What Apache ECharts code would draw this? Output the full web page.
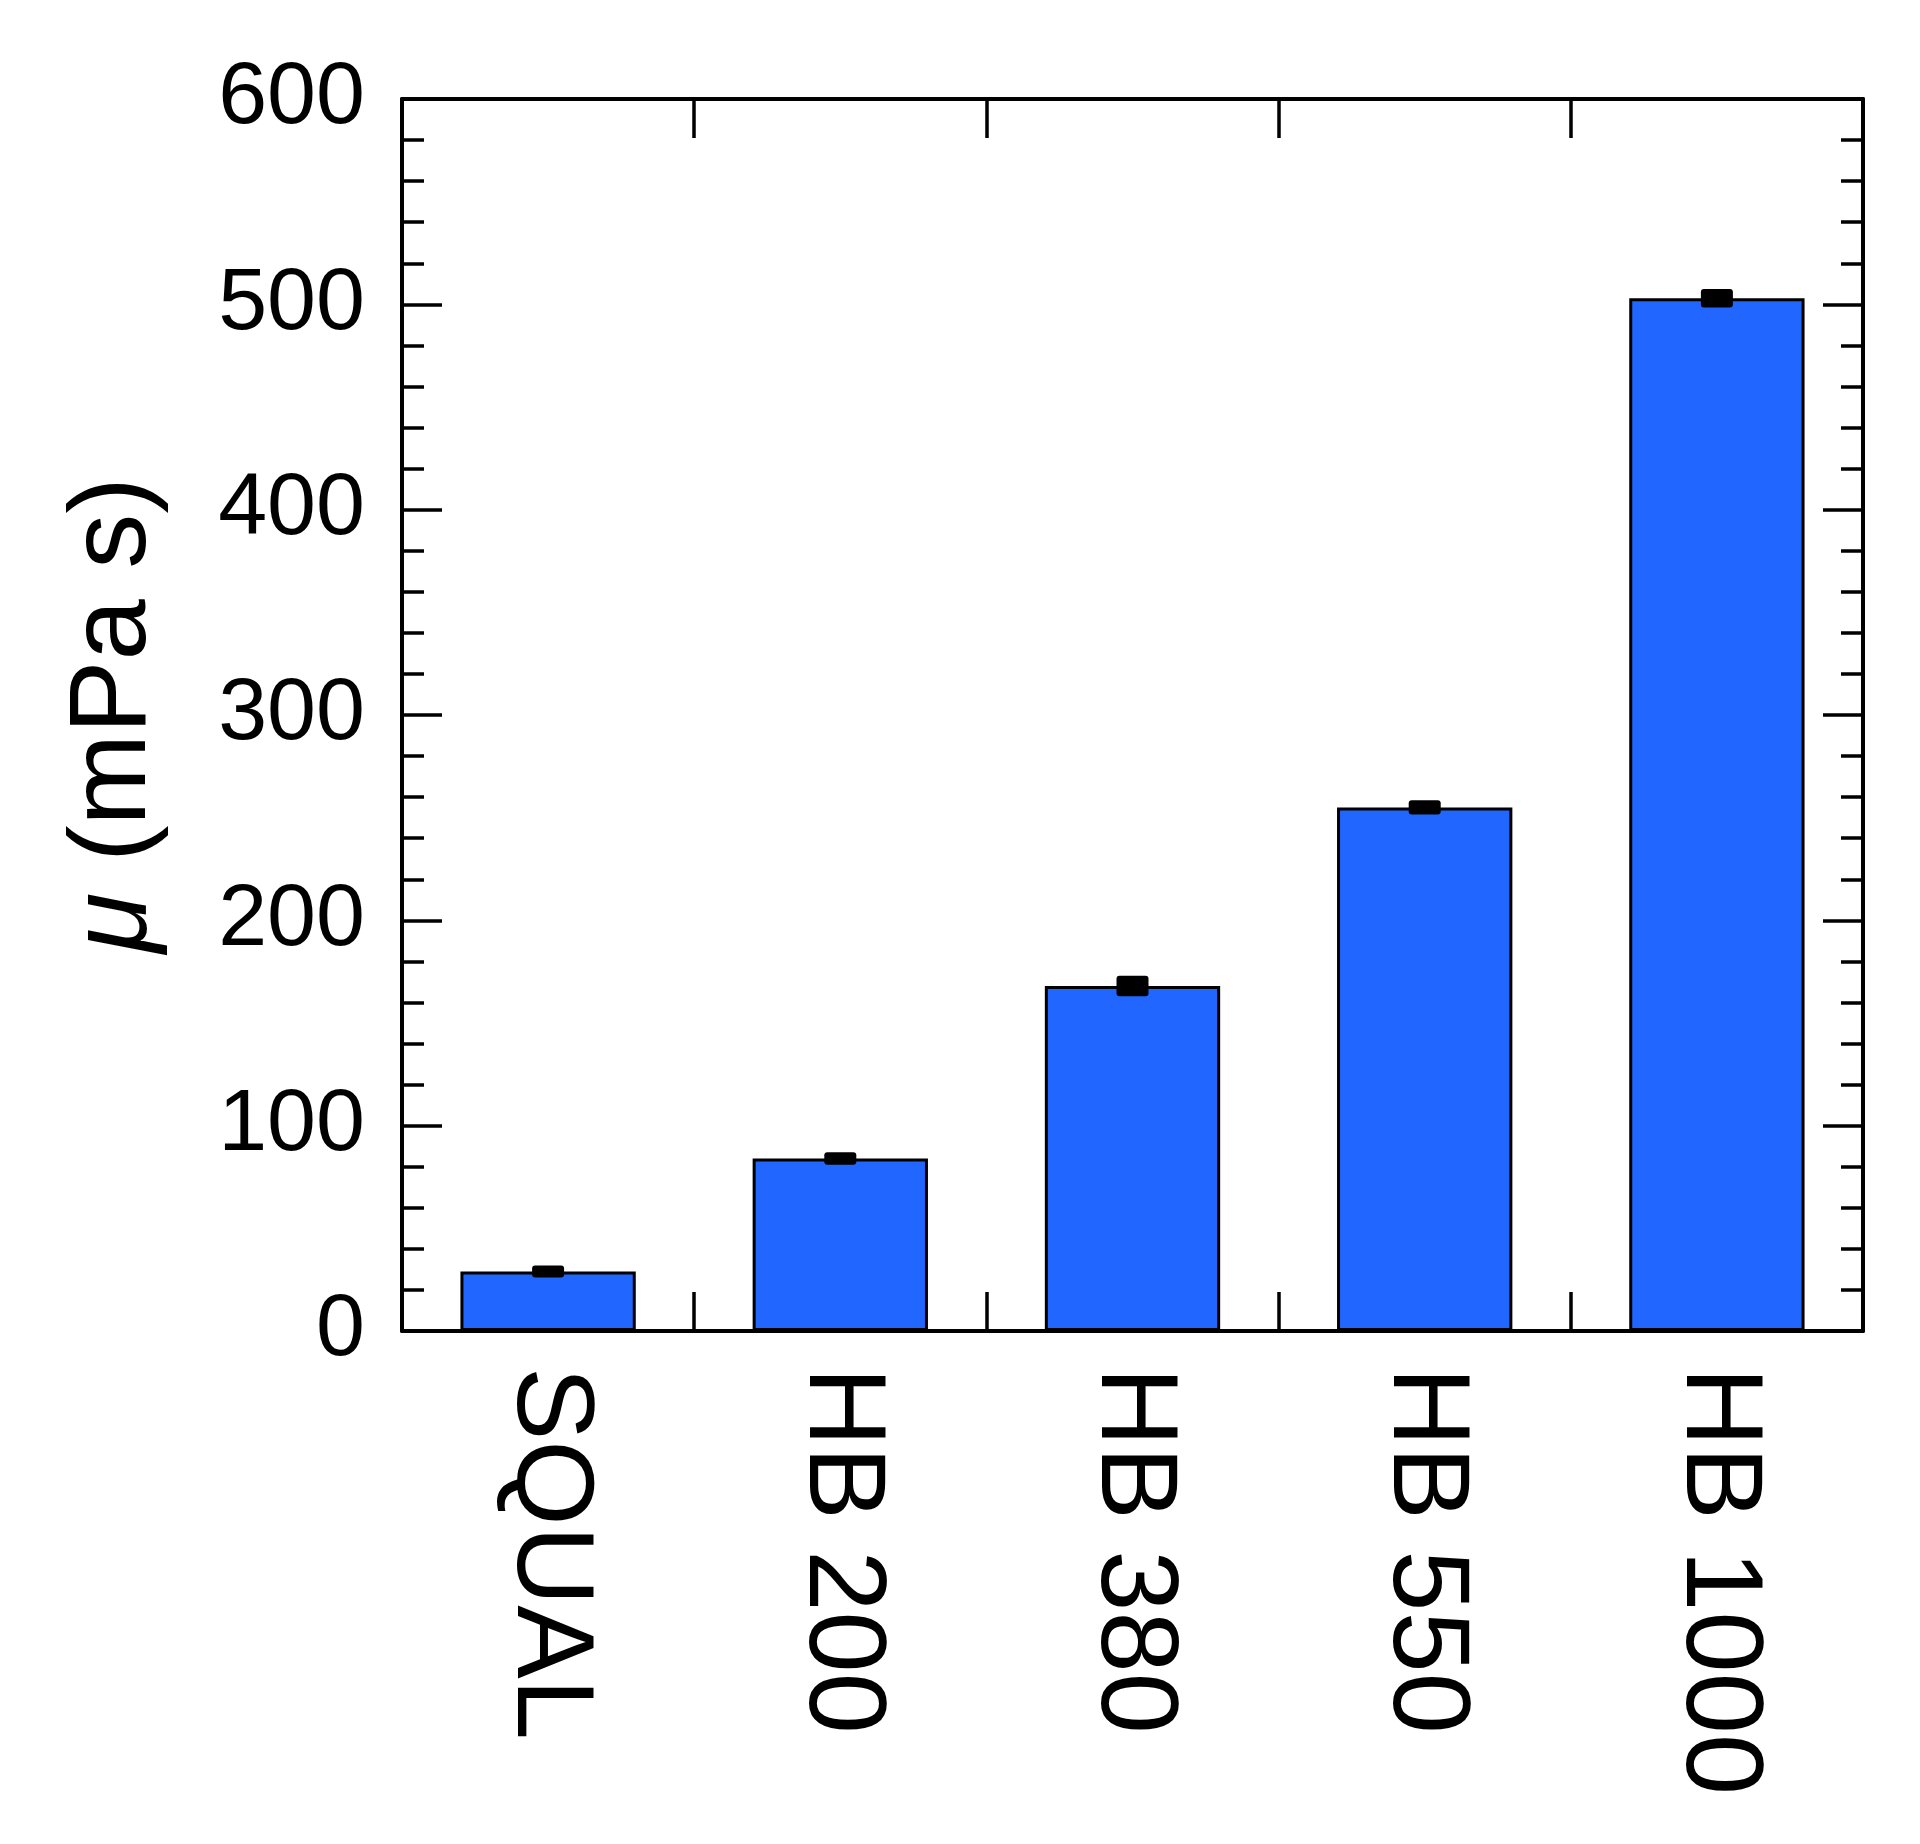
<!DOCTYPE html>
<html>
<head>
<meta charset="utf-8">
<title>viscosity</title>
<script src="https://cdn.jsdelivr.net/npm/echarts@6/dist/echarts.min.js"></script>
<style>
  html, body { margin: 0; padding: 0; background: #ffffff; }
  #chart { width: 1920px; height: 1844px; }
</style>
</head>
<body>
<div id="chart"></div>
<script>
// samples on the x axis
var categories = ['SQUAL', 'HB 200', 'HB 380', 'HB 550', 'HB 1000']
// viscosity mu (mPa s) and its error
var viscosity = [29, 84, 168, 255, 503]
var viscosityErr = [2.5, 3, 5, 3.5, 4.5]
// y tick range
var yMin = 0
var yMax = 600
var yStep = 100

var font = 'Arial, "Liberation Sans", sans-serif'

var errData = viscosity.map(function (v, i) {
    return [i, v - viscosityErr[i], v + viscosityErr[i]]
})

var chart = echarts.init(document.getElementById('chart'))
chart.setOption({
    animation: false,
    backgroundColor: '#ffffff',
    grid: {
        left: 402,
        right: 57,
        top: 99,
        bottom: 513,
        outerBoundsMode: 'none'
    },
    xAxis: [
        {
            type: 'category',
            data: categories,
            position: 'bottom',
            axisLine: { show: true, onZero: false, lineStyle: { color: '#000', width: 4 } },
            axisTick: { show: true, inside: true, length: 39, lineStyle: { color: '#000', width: 3.5 } },
            axisLabel: {
                rotate: -90,
                margin: 36,
                color: '#000',
                fontSize: 110,
                fontFamily: font,
                interval: 0
            }
        },
        {
            type: 'category',
            data: categories,
            position: 'top',
            axisLine: { show: true, onZero: false, lineStyle: { color: '#000', width: 4 } },
            axisTick: { show: true, inside: true, length: 39, lineStyle: { color: '#000', width: 3.5 } },
            axisLabel: { show: false }
        }
    ],
    yAxis: [
        {
            type: 'value',
            min: yMin,
            max: yMax,
            interval: yStep,
            position: 'left',
            name: '{i|μ} (mPa s)',
            nameLocation: 'middle',
            nameGap: 232,
            nameTextStyle: {
                color: '#000',
                fontSize: 110,
                fontFamily: font,
                rich: {
                    i: { fontSize: 110, fontStyle: 'italic', fontFamily: font, color: '#000' }
                }
            },
            splitLine: { show: false },
            axisLine: { show: true, onZero: false, lineStyle: { color: '#000', width: 4 } },
            axisTick: { show: true, inside: true, length: 40, lineStyle: { color: '#000', width: 3.5 } },
            minorTick: { show: true, splitNumber: 5, length: 22, lineStyle: { color: '#000', width: 3.5 } },
            axisLabel: {
                margin: 37,
                color: '#000',
                fontSize: 88,
                fontFamily: font,
                padding: [0, 0, 24, 0]
            }
        },
        {
            type: 'value',
            min: yMin,
            max: yMax,
            interval: yStep,
            position: 'right',
            splitLine: { show: false },
            axisLine: { show: true, onZero: false, lineStyle: { color: '#000', width: 4 } },
            axisTick: { show: true, inside: true, length: 40, lineStyle: { color: '#000', width: 3.5 } },
            minorTick: { show: true, splitNumber: 5, length: 22, lineStyle: { color: '#000', width: 3.5 } },
            axisLabel: { show: false }
        }
    ],
    series: [
        {
            name: 'mu',
            type: 'bar',
            barWidth: '60%',
            data: viscosity,
            itemStyle: {
                color: '#2167ff',
                borderColor: '#000',
                borderWidth: 3
            }
        },
        {
            name: 'err',
            type: 'custom',
            data: errData,
            encode: { x: 0, y: [1, 2] },
            z: 5,
            renderItem: function (params, api) {
                var lo = api.coord([api.value(0), api.value(1)])
                var hi = api.coord([api.value(0), api.value(2)])
                var w = 32
                var h = Math.max(lo[1] - hi[1], 12)
                var mid = (lo[1] + hi[1]) / 2
                return {
                    type: 'rect',
                    shape: { x: lo[0] - w / 2, y: mid - h / 2, width: w, height: h, r: 3 },
                    style: { fill: '#000' }
                }
            }
        }
    ]
})
</script>
</body>
</html>
